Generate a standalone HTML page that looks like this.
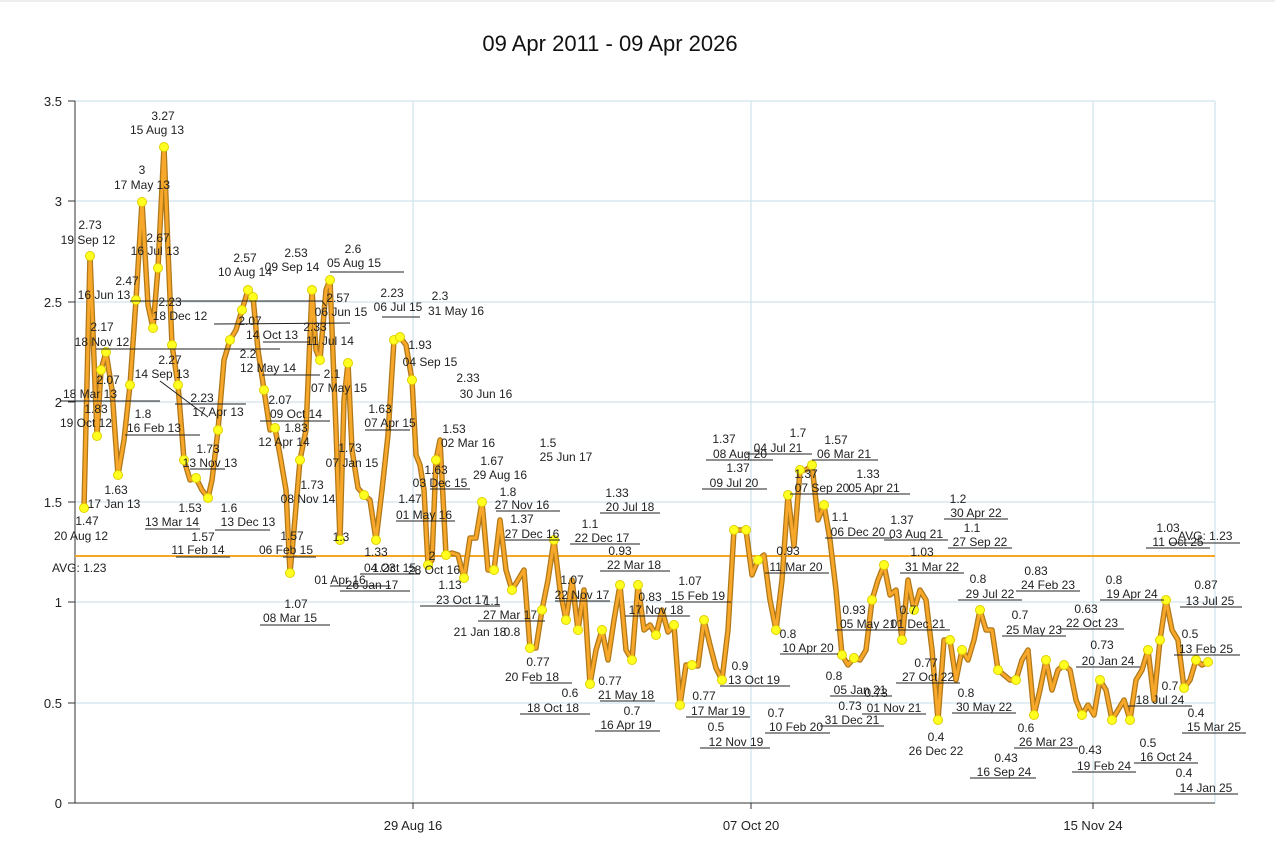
<!DOCTYPE html>
<html><head><meta charset="utf-8"><style>
body{margin:0;background:#fff;}
svg{display:block;font-family:"Liberation Sans",sans-serif;}
.t{font-size:12px;fill:#222;text-anchor:middle}
.l{stroke:#222;stroke-width:1;fill:none}
</style></head><body>
<svg width="1275" height="845" viewBox="0 0 1275 845">
<defs>
<polyline id="p" points="84,508 90,256 97,436 101,370 106,352 112,390 118,475 124,440 130,385 136,300 142,202 148,305 153,328 158,268 164,147 168,250 172,345 178,385 184,460 190,480 196,478 202,490 208,498 212,480 218,430 224,360 230,340 236,330 242,310 248,290 253,297 258,350 264,390 270,430 275,428 280,455 286,490 290,573 294,530 300,460 306,430 312,290 316,350 320,360 326,290 330,280 336,430 340,540 344,400 348,363 352,450 358,488 364,495 370,500 376,540 382,490 388,435 394,340 400,337 406,345 412,380 416,455 420,465 424,490 428,565 432,560 436,460 440,440 446,555 452,553 458,555 464,578 470,538 476,538 482,502 488,570 494,570 500,520 506,570 512,590 518,580 524,570 530,648 536,648 542,610 548,580 554,540 560,590 566,620 572,580 578,630 584,590 590,684 596,650 602,630 608,660 614,620 620,585 626,650 632,660 638,585 644,630 650,625 656,635 662,610 668,632 674,625 680,705 686,665 692,665 698,666 704,620 710,645 716,668 722,680 728,630 734,530 740,530 746,530 752,575 758,560 764,555 770,600 776,630 782,580 788,495 794,546 800,470 806,470 812,465 818,520 824,505 830,540 836,590 842,655 848,665 854,658 860,660 866,650 872,600 878,580 884,565 890,595 896,590 902,640 908,580 914,610 920,590 926,600 932,650 938,720 944,640 950,640 956,680 962,650 968,660 974,640 980,610 986,630 992,630 998,670 1004,675 1010,680 1016,680 1022,660 1028,650 1034,715 1040,690 1046,660 1052,690 1058,670 1064,665 1070,670 1076,700 1082,715 1088,705 1094,715 1100,680 1106,690 1112,720 1118,710 1124,700 1130,720 1136,680 1142,670 1148,650 1154,700 1160,640 1166,600 1172,630 1178,640 1184,688 1190,680 1196,660 1202,665 1208,662"/>
</defs>
<rect x="0" y="0" width="1275" height="845" fill="#fff"/>
<line x1="0" y1="1" x2="1275" y2="1" stroke="#ddd"/>
<text x="610" y="51" font-size="22" text-anchor="middle" fill="#111">09 Apr 2011 - 09 Apr 2026</text>
<g stroke="#c5dde8" stroke-width="1">
<line x1="75" y1="101" x2="1215" y2="101"/><line x1="75" y1="201" x2="1215" y2="201"/>
<line x1="75" y1="302" x2="1215" y2="302"/><line x1="75" y1="402" x2="1215" y2="402"/>
<line x1="75" y1="502" x2="1215" y2="502"/><line x1="75" y1="602" x2="1215" y2="602"/>
<line x1="75" y1="703" x2="1215" y2="703"/>
<line x1="413" y1="101" x2="413" y2="803"/><line x1="751" y1="101" x2="751" y2="803"/><line x1="1093" y1="101" x2="1093" y2="803"/>
<line x1="1215" y1="101" x2="1215" y2="803"/>
</g>
<g stroke="#333" stroke-width="1">
<line x1="75" y1="101" x2="75" y2="803"/><line x1="75" y1="803" x2="1215" y2="803"/>
<line x1="68" y1="101" x2="75" y2="101"/><line x1="68" y1="201" x2="75" y2="201"/><line x1="68" y1="302" x2="75" y2="302"/><line x1="68" y1="402" x2="75" y2="402"/><line x1="68" y1="502" x2="75" y2="502"/><line x1="68" y1="602" x2="75" y2="602"/><line x1="68" y1="703" x2="75" y2="703"/><line x1="68" y1="803" x2="75" y2="803"/>
<line x1="413" y1="803" x2="413" y2="809"/><line x1="751" y1="803" x2="751" y2="809"/><line x1="1093" y1="803" x2="1093" y2="809"/>
</g>
<g font-size="13" fill="#222" text-anchor="end">
<text x="62" y="106">3.5</text><text x="62" y="206">3</text><text x="62" y="307">2.5</text><text x="62" y="407">2</text><text x="62" y="507">1.5</text><text x="62" y="607">1</text><text x="62" y="708">0.5</text><text x="62" y="808">0</text>
</g>
<g font-size="13" fill="#222" text-anchor="middle">
<text x="413" y="830">29 Aug 16</text><text x="751" y="830">07 Oct 20</text><text x="1093" y="830">15 Nov 24</text>
</g>
<line x1="75" y1="556" x2="1215" y2="556" stroke="#f5a623" stroke-width="2"/>
<text x="52" y="572" font-size="12" fill="#222">AVG: 1.23</text>
<text x="1178" y="540" font-size="12" fill="#222">AVG: 1.23</text>
<line x1="1170" y1="543" x2="1240" y2="543" class="l"/>
<g fill="none" stroke-linejoin="round">
<use href="#p" stroke="#b07818" stroke-width="5.5"/>
<use href="#p" stroke="#f7a82a" stroke-width="3"/>
</g>
<g fill="#ffff20" stroke="#e0d000" stroke-width="1">
<circle cx="84" cy="508" r="4.5"/><circle cx="90" cy="256" r="4.5"/><circle cx="97" cy="436" r="4.5"/><circle cx="101" cy="370" r="4.5"/><circle cx="106" cy="352" r="4.5"/><circle cx="118" cy="475" r="4.5"/><circle cx="130" cy="385" r="4.5"/><circle cx="136" cy="300" r="4.5"/><circle cx="142" cy="202" r="4.5"/><circle cx="153" cy="328" r="4.5"/><circle cx="158" cy="268" r="4.5"/><circle cx="164" cy="147" r="4.5"/><circle cx="172" cy="345" r="4.5"/><circle cx="178" cy="385" r="4.5"/><circle cx="184" cy="460" r="4.5"/><circle cx="196" cy="478" r="4.5"/><circle cx="208" cy="498" r="4.5"/><circle cx="218" cy="430" r="4.5"/><circle cx="230" cy="340" r="4.5"/><circle cx="242" cy="310" r="4.5"/><circle cx="248" cy="290" r="4.5"/><circle cx="253" cy="297" r="4.5"/><circle cx="264" cy="390" r="4.5"/><circle cx="275" cy="428" r="4.5"/><circle cx="290" cy="573" r="4.5"/><circle cx="300" cy="460" r="4.5"/><circle cx="312" cy="290" r="4.5"/><circle cx="320" cy="360" r="4.5"/><circle cx="330" cy="280" r="4.5"/><circle cx="340" cy="540" r="4.5"/><circle cx="348" cy="363" r="4.5"/><circle cx="364" cy="495" r="4.5"/><circle cx="376" cy="540" r="4.5"/><circle cx="394" cy="340" r="4.5"/><circle cx="400" cy="337" r="4.5"/><circle cx="412" cy="380" r="4.5"/><circle cx="428" cy="565" r="4.5"/><circle cx="436" cy="460" r="4.5"/><circle cx="446" cy="555" r="4.5"/><circle cx="464" cy="578" r="4.5"/><circle cx="482" cy="502" r="4.5"/><circle cx="494" cy="570" r="4.5"/><circle cx="512" cy="590" r="4.5"/><circle cx="530" cy="648" r="4.5"/><circle cx="542" cy="610" r="4.5"/><circle cx="554" cy="540" r="4.5"/><circle cx="566" cy="620" r="4.5"/><circle cx="578" cy="630" r="4.5"/><circle cx="590" cy="684" r="4.5"/><circle cx="602" cy="630" r="4.5"/><circle cx="620" cy="585" r="4.5"/><circle cx="632" cy="660" r="4.5"/><circle cx="638" cy="585" r="4.5"/><circle cx="656" cy="635" r="4.5"/><circle cx="674" cy="625" r="4.5"/><circle cx="680" cy="705" r="4.5"/><circle cx="692" cy="665" r="4.5"/><circle cx="704" cy="620" r="4.5"/><circle cx="722" cy="680" r="4.5"/><circle cx="734" cy="530" r="4.5"/><circle cx="746" cy="530" r="4.5"/><circle cx="758" cy="560" r="4.5"/><circle cx="776" cy="630" r="4.5"/><circle cx="788" cy="495" r="4.5"/><circle cx="800" cy="470" r="4.5"/><circle cx="812" cy="465" r="4.5"/><circle cx="824" cy="505" r="4.5"/><circle cx="842" cy="655" r="4.5"/><circle cx="854" cy="658" r="4.5"/><circle cx="872" cy="600" r="4.5"/><circle cx="884" cy="565" r="4.5"/><circle cx="902" cy="640" r="4.5"/><circle cx="914" cy="610" r="4.5"/><circle cx="938" cy="720" r="4.5"/><circle cx="950" cy="640" r="4.5"/><circle cx="962" cy="650" r="4.5"/><circle cx="980" cy="610" r="4.5"/><circle cx="998" cy="670" r="4.5"/><circle cx="1016" cy="680" r="4.5"/><circle cx="1034" cy="715" r="4.5"/><circle cx="1046" cy="660" r="4.5"/><circle cx="1064" cy="665" r="4.5"/><circle cx="1082" cy="715" r="4.5"/><circle cx="1100" cy="680" r="4.5"/><circle cx="1112" cy="720" r="4.5"/><circle cx="1130" cy="720" r="4.5"/><circle cx="1148" cy="650" r="4.5"/><circle cx="1160" cy="640" r="4.5"/><circle cx="1166" cy="600" r="4.5"/><circle cx="1184" cy="688" r="4.5"/><circle cx="1196" cy="660" r="4.5"/><circle cx="1208" cy="662" r="4.5"/>
</g>
<g class="t">
<text x="163" y="120">3.27</text><text x="157" y="134">15 Aug 13</text>
<text x="142" y="174">3</text><text x="142" y="189">17 May 13</text>
<text x="90" y="229">2.73</text><text x="88" y="244">19 Sep 12</text>
<text x="158" y="242">2.67</text><text x="155" y="255">16 Jul 13</text>
<text x="127" y="285">2.47</text><text x="104" y="299">16 Jun 13</text>
<text x="170" y="306">2.23</text><text x="180" y="320">18 Dec 12</text>
<text x="102" y="331">2.17</text><text x="102" y="346">18 Nov 12</text>
<text x="108" y="384">2.07</text><text x="90" y="398">18 Mar 13</text>
<text x="96" y="413">1.83</text><text x="86" y="427">19 Oct 12</text>
<text x="116" y="494">1.63</text><text x="114" y="508">17 Jan 13</text>
<text x="87" y="525">1.47</text><text x="81" y="540">20 Aug 12</text>
<text x="143" y="418">1.8</text><text x="154" y="432">16 Feb 13</text>
<text x="170" y="364">2.27</text><text x="162" y="378">14 Sep 13</text>
<text x="202" y="402">2.23</text><text x="218" y="416">17 Apr 13</text>
<text x="208" y="453">1.73</text><text x="210" y="467">13 Nov 13</text>
<text x="190" y="512">1.53</text><text x="172" y="526">13 Mar 14</text>
<text x="229" y="512">1.6</text><text x="248" y="526">13 Dec 13</text>
<text x="203" y="541">1.57</text><text x="198" y="554">11 Feb 14</text>
<text x="245" y="262">2.57</text><text x="245" y="276">10 Aug 14</text>
<text x="296" y="257">2.53</text><text x="292" y="271">09 Sep 14</text>
<text x="353" y="253">2.6</text><text x="354" y="267">05 Aug 15</text>
<text x="250" y="325">2.07</text><text x="272" y="339">14 Oct 13</text>
<text x="248" y="358">2.2</text><text x="268" y="372">12 May 14</text>
<text x="338" y="302">2.57</text><text x="341" y="316">06 Jun 15</text>
<text x="315" y="331">2.33</text><text x="330" y="345">11 Jul 14</text>
<text x="392" y="297">2.23</text><text x="398" y="311">06 Jul 15</text>
<text x="440" y="300">2.3</text><text x="456" y="315">31 May 16</text>
<text x="332" y="378">2.1</text><text x="339" y="392">07 May 15</text>
<text x="280" y="404">2.07</text><text x="296" y="418">09 Oct 14</text>
<text x="296" y="432">1.83</text><text x="284" y="446">12 Apr 14</text>
<text x="380" y="413">1.63</text><text x="390" y="427">07 Apr 15</text>
<text x="420" y="349">1.93</text><text x="430" y="366">04 Sep 15</text>
<text x="468" y="382">2.33</text><text x="486" y="398">30 Jun 16</text>
<text x="350" y="452">1.73</text><text x="352" y="467">07 Jan 15</text>
<text x="312" y="489">1.73</text><text x="308" y="503">08 Nov 14</text>
<text x="292" y="540">1.57</text><text x="286" y="554">06 Feb 15</text>
<text x="296" y="608">1.07</text><text x="290" y="622">08 Mar 15</text>
<text x="341" y="541">1.3</text><text x="340" y="584">01 Apr 16</text>
<text x="376" y="556">1.33</text><text x="390" y="572">04 Oct 15</text>
<text x="410" y="503">1.47</text><text x="424" y="519">01 May 16</text>
<text x="454" y="433">1.53</text><text x="468" y="447">02 Mar 16</text>
<text x="492" y="465">1.67</text><text x="500" y="479">29 Aug 16</text>
<text x="436" y="474">1.63</text><text x="440" y="487">03 Dec 15</text>
<text x="508" y="496">1.8</text><text x="522" y="509">27 Nov 16</text>
<text x="522" y="523">1.37</text><text x="532" y="538">27 Dec 16</text>
<text x="548" y="447">1.5</text><text x="566" y="461">25 Jun 17</text>
<text x="590" y="528">1.1</text><text x="602" y="542">22 Dec 17</text>
<text x="617" y="497">1.33</text><text x="630" y="511">20 Jul 18</text>
<text x="432" y="560">2</text><text x="434" y="574">28 Oct 16</text>
<text x="384" y="572">1.23</text><text x="372" y="589">26 Jan 17</text>
<text x="450" y="589">1.13</text><text x="462" y="604">23 Oct 17</text>
<text x="492" y="605">1.1</text><text x="510" y="619">27 Mar 17</text>
<text x="572" y="584">1.07</text><text x="582" y="599">22 Nov 17</text>
<text x="620" y="555">0.93</text><text x="634" y="569">22 Mar 18</text>
<text x="650" y="601">0.83</text><text x="656" y="614">17 Nov 18</text>
<text x="480" y="636">21 Jan 18</text><text x="512" y="636">0.8</text>
<text x="538" y="666">0.77</text><text x="532" y="681">20 Feb 18</text>
<text x="570" y="697">0.6</text><text x="553" y="712">18 Oct 18</text>
<text x="610" y="685">0.77</text><text x="626" y="699">21 May 18</text>
<text x="632" y="715">0.7</text><text x="626" y="729">16 Apr 19</text>
<text x="690" y="585">1.07</text><text x="698" y="600">15 Feb 19</text>
<text x="704" y="700">0.77</text><text x="718" y="715">17 Mar 19</text>
<text x="716" y="731">0.5</text><text x="736" y="746">12 Nov 19</text>
<text x="776" y="717">0.7</text><text x="796" y="731">10 Feb 20</text>
<text x="740" y="670">0.9</text><text x="754" y="684">13 Oct 19</text>
<text x="724" y="443">1.37</text><text x="740" y="458">08 Aug 20</text>
<text x="738" y="472">1.37</text><text x="734" y="487">09 Jul 20</text>
<text x="798" y="437">1.7</text><text x="778" y="452">04 Jul 21</text>
<text x="836" y="444">1.57</text><text x="844" y="458">06 Mar 21</text>
<text x="806" y="478">1.37</text><text x="822" y="492">07 Sep 20</text>
<text x="868" y="478">1.33</text><text x="874" y="492">05 Apr 21</text>
<text x="840" y="521">1.1</text><text x="858" y="536">06 Dec 20</text>
<text x="788" y="555">0.93</text><text x="796" y="571">11 Mar 20</text>
<text x="788" y="638">0.8</text><text x="808" y="652">10 Apr 20</text>
<text x="854" y="614">0.93</text><text x="868" y="628">05 May 21</text>
<text x="908" y="614">0.7</text><text x="918" y="628">01 Dec 21</text>
<text x="834" y="680">0.8</text><text x="860" y="694">05 Jan 21</text>
<text x="876" y="697">0.73</text><text x="894" y="712">01 Nov 21</text>
<text x="850" y="710">0.73</text><text x="852" y="724">31 Dec 21</text>
<text x="958" y="503">1.2</text><text x="976" y="517">30 Apr 22</text>
<text x="902" y="524">1.37</text><text x="916" y="538">03 Aug 21</text>
<text x="972" y="532">1.1</text><text x="980" y="546">27 Sep 22</text>
<text x="922" y="556">1.03</text><text x="932" y="571">31 Mar 22</text>
<text x="978" y="583">0.8</text><text x="990" y="598">29 Jul 22</text>
<text x="1036" y="575">0.83</text><text x="1048" y="589">24 Feb 23</text>
<text x="926" y="667">0.77</text><text x="928" y="681">27 Oct 22</text>
<text x="966" y="697">0.8</text><text x="984" y="711">30 May 22</text>
<text x="936" y="741">0.4</text><text x="936" y="755">26 Dec 22</text>
<text x="1020" y="619">0.7</text><text x="1034" y="634">25 May 23</text>
<text x="1086" y="613">0.63</text><text x="1092" y="627">22 Oct 23</text>
<text x="1102" y="649">0.73</text><text x="1108" y="665">20 Jan 24</text>
<text x="1114" y="584">0.8</text><text x="1132" y="598">19 Apr 24</text>
<text x="1026" y="732">0.6</text><text x="1046" y="746">26 Mar 23</text>
<text x="1006" y="762">0.43</text><text x="1004" y="776">16 Sep 24</text>
<text x="1090" y="754">0.43</text><text x="1104" y="770">19 Feb 24</text>
<text x="1168" y="532">1.03</text><text x="1178" y="546">11 Oct 25</text>
<text x="1206" y="589">0.87</text><text x="1210" y="605">13 Jul 25</text>
<text x="1190" y="638">0.5</text><text x="1206" y="653">13 Feb 25</text>
<text x="1170" y="690">0.7</text><text x="1160" y="704">18 Jul 24</text>
<text x="1196" y="717">0.4</text><text x="1214" y="731">15 Mar 25</text>
<text x="1148" y="747">0.5</text><text x="1166" y="761">16 Oct 24</text>
<text x="1184" y="777">0.4</text><text x="1206" y="792">14 Jan 25</text>
</g>
<g class="l">
<path d="M130,301 H322 L326,306"/><path d="M214,324 L350,323"/><path d="M96,349 H280"/><path d="M60,401 H160"/>
<path d="M125,435 H200"/><path d="M160,381 L208,417"/><path d="M175,404 L246,404"/><path d="M190,469 H225"/>
<path d="M145,529 H200"/><path d="M215,530 H270"/><path d="M176,557 H230"/><path d="M263,342 H310"/>
<path d="M262,375 H320"/><path d="M330,272 H404"/><path d="M382,317 L420,317"/>
<path d="M260,421 H330"/><path d="M365,430 H410"/><path d="M283,557 H316"/><path d="M260,625 H330"/>
<path d="M330,586 H390"/><path d="M360,574 H420"/><path d="M396,521 H455"/><path d="M430,489 H470"/>
<path d="M496,511 H560"/><path d="M505,540 H560"/><path d="M570,544 H640"/><path d="M600,513 H660"/>
<path d="M340,591 H410"/><path d="M420,606 H500"/><path d="M478,621 H545"/><path d="M555,601 H610"/>
<path d="M600,571 H670"/><path d="M625,616 H690"/><path d="M530,683 H572"/><path d="M520,714 H590"/>
<path d="M600,701 H655"/><path d="M595,731 H660"/><path d="M665,602 H731"/><path d="M686,717 H750"/>
<path d="M700,748 H770"/><path d="M765,733 H830"/><path d="M720,686 H790"/><path d="M706,460 H773"/>
<path d="M702,489 H767"/><path d="M746,454 H812"/><path d="M812,460 H878"/><path d="M790,494 H856"/>
<path d="M840,494 H910"/><path d="M825,538 H892"/><path d="M765,573 H829"/><path d="M780,654 H838"/>
<path d="M835,630 H901"/><path d="M886,630 H950"/><path d="M830,696 H892"/><path d="M862,714 H926"/>
<path d="M820,726 H884"/><path d="M944,519 H1008"/><path d="M884,540 H948"/><path d="M948,548 H1012"/>
<path d="M900,573 H964"/><path d="M958,600 H1022"/><path d="M1016,591 H1080"/><path d="M896,683 H960"/>
<path d="M952,713 H1016"/><path d="M1002,636 H1066"/><path d="M1060,629 H1124"/><path d="M1076,667 H1140"/>
<path d="M1100,600 H1164"/><path d="M1014,748 H1078"/><path d="M970,778 H1036"/><path d="M1072,772 H1136"/>
<path d="M1146,548 H1210"/><path d="M1180,607 H1242"/><path d="M1174,655 H1240"/><path d="M1128,706 H1192"/>
<path d="M1182,733 H1246"/><path d="M1134,763 H1198"/><path d="M1174,794 H1238"/>
</g>
</svg>
</body></html>
